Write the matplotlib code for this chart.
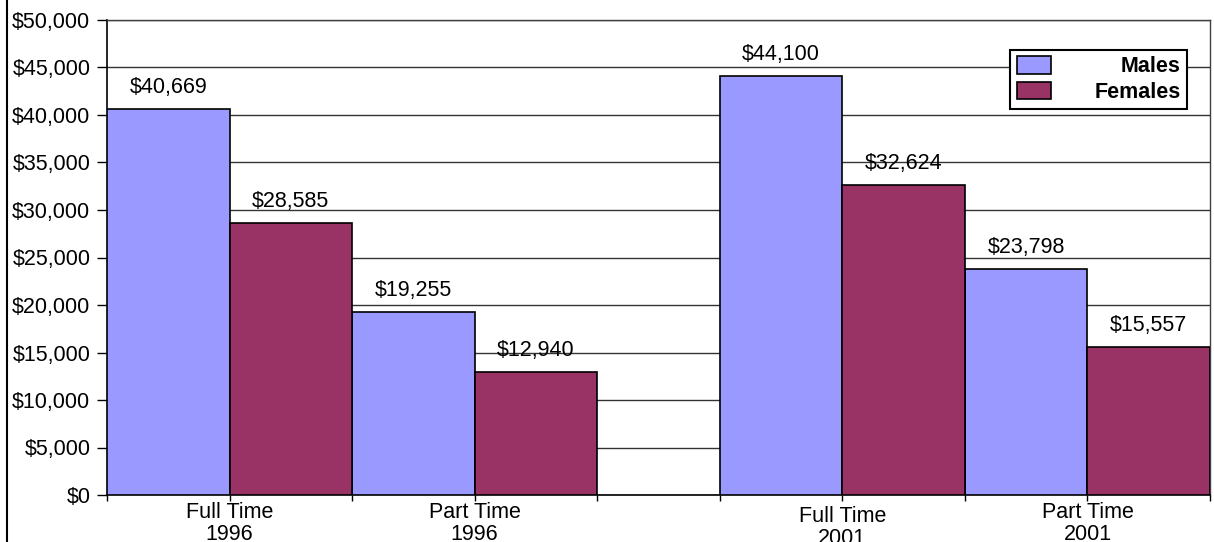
import matplotlib
matplotlib.use('Agg')
import matplotlib.pyplot as plt
import matplotlib.transforms as mtransforms
from matplotlib.lines import Line2D
from matplotlib.ticker import FuncFormatter
import numpy as np

# earnings by work pattern, 1996 vs 2001
groups = ['Full Time\n1996', 'Part Time\n1996', 'Full Time\n2001', 'Part Time\n2001']
males = [40669, 19255, 44100, 23798]
females = [28585, 12940, 32624, 15557]
series_names = ['Males', 'Females']

male_color = '#9999FF'
female_color = '#993366'
fs = 15.5

plt.rcParams['font.family'] = ['Liberation Sans', 'DejaVu Sans']
plt.rcParams['font.size'] = fs

fig = plt.figure(figsize=(12.14, 5.42), dpi=100)
ax = fig.add_axes([107/1214, 47/542, 1103/1214, 475/542])

# each group takes two slots, with one empty slot between the years
idx = np.arange(len(groups))
left = idx * 2 + (idx >= 2)
b1 = ax.bar(left, males, width=1, align='edge', color=male_color, edgecolor='black', linewidth=1.2, label=series_names[0], zorder=3)
b2 = ax.bar(left + 1, females, width=1, align='edge', color=female_color, edgecolor='black', linewidth=1.2, label=series_names[1], zorder=3)

for bars, vals in [(b1, males), (b2, females)]:
    ax.bar_label(bars, labels=[f'${v:,}' for v in vals], padding=8, fontsize=fs)

# axes, ticks
ax.set_xlim(0, left[-1] + 2)
ax.set_ylim(0, 50000)
ax.set_yticks(np.arange(0, 50001, 5000))
ax.yaxis.set_major_formatter(FuncFormatter(lambda v, p: f'${v:,.0f}'))
ax.tick_params(axis='y', length=7, width=1, pad=5, labelsize=fs)

xt = np.arange(left[-1] + 3)
xlabels = [''] * len(xt)
for i, g in enumerate(groups):
    xlabels[left[i] + 1] = g
ax.set_xticks(xt)
ax.set_xticklabels(xlabels, fontsize=fs)
ax.tick_params(axis='x', length=4, width=1, pad=1)
for t in ax.get_xticklabels():
    t.set_linespacing(1.08)
# full time 2001 label sits a little lower in the original
lab = ax.get_xticklabels()[left[2] + 1]
lab.set_transform(lab.get_transform() + mtransforms.ScaledTranslation(0, -4/100, fig.dpi_scale_trans))

ax.grid(axis='y', color='#333333', linewidth=1, zorder=0)
ax.set_axisbelow(True)
for s in ['top', 'right']:
    ax.spines[s].set_color('#404040')
    ax.spines[s].set_linewidth(1)
for s in ['left', 'bottom']:
    ax.spines[s].set_color('black')
    ax.spines[s].set_linewidth(1.2)

# legend, labels right aligned like excel
leg = ax.legend(loc='upper right', bbox_to_anchor=(1080/1103, 445/475), borderaxespad=0,
                frameon=True, fancybox=False, shadow=False, framealpha=1,
                edgecolor='black', handlelength=1.6, handleheight=0.85,
                handletextpad=2.0, borderpad=0.3, labelspacing=0.2,
                prop={'weight': 'bold', 'size': fs})
leg.get_frame().set_linewidth(1.5)
leg.set_zorder(5)
fig.canvas.draw()
widths = [t.get_window_extent().width for t in leg.get_texts()]
shift = max(widths)
for t, w in zip(leg.get_texts(), widths):
    t.set_position((shift - w, 0))

# left border of the chart area
fig.add_artist(Line2D([7/1214, 7/1214], [0, 1], transform=fig.transFigure, color='black', linewidth=1.5))

plt.savefig('out.png', dpi=100)
plt.close()
